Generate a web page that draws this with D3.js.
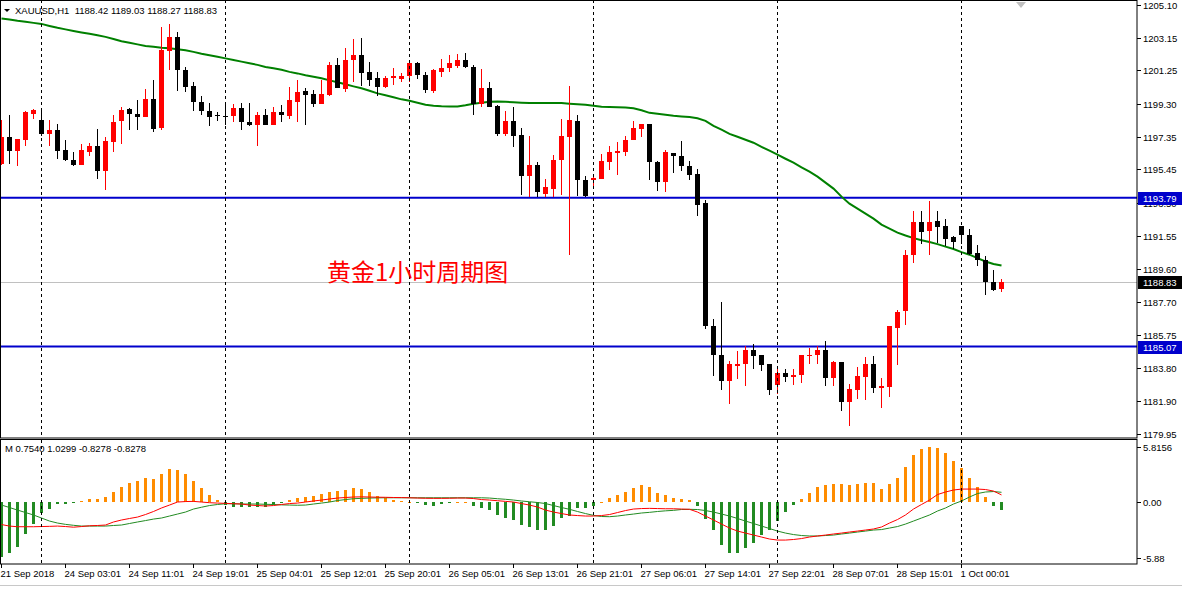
<!DOCTYPE html>
<html>
<head>
<meta charset="utf-8">
<script src="https://cdn.jsdelivr.net/npm/d3@7"></script>
<style>
  body { margin: 0; background: #fff; }
  svg text { font-family: "Liberation Sans", Arial, sans-serif; font-size: 9.5px; fill: #000; }
</style>
</head>
<body>
<div id="chart"></div>
<script>
// XAUUSD H1 candles, one entry per bar
const opens = [1195.78,1197.36,1196.54,1197.18,1198.71,1198.35,1197.53,1197.77,1196.56,1196.01,1195.72,1196.48,1196.83,1195.33,1197.08,1198.31,1199.00,1198.71,1198.49,1199.58,
  1197.90,1202.41,1203.21,1201.28,1200.34,1199.39,1198.88,1198.65,1198.59,1198.55,1199.04,1198.24,1198.02,1198.65,1198.02,1198.78,1198.59,1199.42,1200.05,1199.87,
  1199.29,1199.82,1201.57,1200.17,1201.86,1202.16,1201.14,1200.79,1200.30,1200.79,1200.75,1200.89,1201.67,1200.99,1200.01,1201.14,1201.41,1201.53,1201.86,1201.47,
  1199.29,1200.24,1199.17,1197.53,1198.31,1197.48,1195.07,1195.68,1194.02,1194.32,1195.97,1197.32,1198.30,1194.84,1194.84,1194.90,1195.90,1196.38,1196.48,1197.18,
  1197.84,1198.12,1195.86,1194.69,1196.38,1196.25,1195.66,1195.18,1193.48,1186.30,1184.60,1183.04,1183.92,1184.02,1184.84,1184.55,1184.02,1182.81,1183.49,1183.28,
  1183.39,1184.50,1184.56,1184.84,1183.20,1184.15,1181.81,1182.50,1183.28,1184.02,1182.61,1182.69,1186.17,1187.14,1190.41,1192.34,1191.82,1192.44,1192.11,1191.47,
  1192.11,1191.62,1190.55,1190.16,1188.87,1188.42];
const highs = [1198.35,1198.65,1197.24,1198.84,1199.00,1199.06,1198.35,1198.12,1197.18,1196.48,1196.95,1196.99,1197.83,1197.34,1198.65,1199.13,1199.06,1199.53,1200.17,1200.69,
  1203.80,1203.97,1203.52,1201.47,1200.59,1199.72,1199.33,1198.78,1199.27,1199.29,1199.33,1199.33,1198.80,1199.00,1199.13,1199.19,1200.28,1200.69,1200.21,1200.11,
  1200.69,1201.76,1201.96,1202.58,1203.09,1203.17,1201.71,1201.14,1200.89,1201.41,1201.12,1201.73,1201.76,1201.14,1201.34,1201.92,1202.16,1202.20,1202.29,1201.57,
  1201.34,1200.54,1199.23,1198.84,1199.10,1197.90,1197.38,1195.86,1194.88,1196.31,1198.41,1200.34,1198.65,1195.07,1195.04,1196.36,1196.79,1197.03,1197.42,1198.30,
  1198.12,1198.12,1195.95,1196.60,1196.38,1197.12,1195.91,1195.47,1193.63,1186.69,1187.65,1184.25,1184.80,1185.09,1185.19,1184.55,1184.02,1183.83,1183.77,1183.73,
  1184.60,1184.96,1185.09,1185.38,1184.25,1184.15,1182.85,1183.86,1184.45,1184.50,1183.20,1186.26,1187.18,1190.71,1193.03,1192.99,1193.61,1192.99,1192.56,1191.57,
  1192.11,1191.96,1191.00,1190.40,1189.58,1189.03];
const lows = [1195.72,1195.78,1195.62,1196.79,1198.41,1197.38,1196.83,1196.07,1195.91,1195.62,1195.72,1196.25,1194.90,1194.22,1196.44,1196.95,1197.73,1197.73,1198.49,1197.63,
  1197.73,1201.28,1200.01,1199.97,1198.84,1198.65,1198.00,1198.31,1198.06,1198.25,1197.77,1197.96,1196.83,1198.02,1198.02,1198.22,1198.39,1198.21,1198.06,1199.10,
  1199.29,1199.76,1200.21,1199.97,1200.59,1200.34,1200.34,1199.72,1200.21,1200.40,1200.59,1200.59,1200.74,1199.92,1199.92,1200.85,1201.18,1201.38,1201.38,1198.61,
  1199.10,1199.10,1197.38,1197.38,1196.73,1193.97,1193.81,1193.81,1193.81,1193.81,1193.97,1190.45,1193.91,1193.83,1194.45,1194.90,1195.42,1195.14,1196.26,1197.18,
  1197.32,1194.84,1194.16,1194.10,1195.24,1195.37,1194.80,1192.70,1186.07,1183.33,1182.51,1181.68,1183.14,1182.75,1183.73,1183.63,1182.21,1182.26,1182.98,1182.81,
  1182.91,1184.02,1184.02,1182.75,1182.75,1181.29,1180.41,1181.97,1181.93,1182.36,1181.44,1182.11,1183.98,1186.32,1189.97,1191.08,1190.45,1191.14,1190.94,1190.81,
  1191.08,1190.41,1189.77,1188.07,1188.31,1188.27];
const closes = [1197.36,1196.54,1197.24,1198.78,1198.90,1197.53,1197.77,1196.50,1195.97,1195.72,1196.56,1196.83,1195.33,1197.12,1198.24,1198.94,1198.69,1198.51,1199.58,1197.84,
  1202.45,1203.21,1201.24,1200.30,1199.37,1198.84,1198.49,1198.55,1198.55,1199.04,1198.20,1198.02,1198.65,1198.02,1198.82,1198.66,1199.53,1199.99,1199.82,1199.29,
  1199.87,1201.57,1200.24,1201.86,1202.16,1201.09,1200.69,1200.30,1200.79,1200.89,1200.93,1201.67,1200.99,1200.07,1201.24,1201.38,1201.67,1201.86,1201.44,1199.29,
  1200.24,1199.10,1197.53,1198.31,1197.42,1195.07,1195.68,1194.10,1194.39,1196.01,1197.38,1198.35,1194.80,1193.91,1194.96,1195.95,1196.48,1196.54,1197.18,1197.89,
  1198.12,1195.86,1194.69,1196.44,1196.26,1195.62,1195.14,1193.38,1186.26,1184.56,1183.04,1184.02,1184.02,1184.84,1184.50,1183.96,1182.51,1183.49,1183.28,1183.43,
  1184.55,1184.60,1184.84,1183.20,1184.15,1181.81,1182.56,1183.33,1184.02,1182.61,1182.75,1186.26,1187.08,1190.45,1192.34,1191.78,1192.37,1192.05,1191.39,1191.17,
  1191.58,1190.51,1190.12,1188.83,1188.37,1188.83];

// moving average drawn on the price panel
const maValues = [1204.29,1204.23,1204.15,1204.09,1204.03,1203.97,1203.85,1203.74,1203.65,1203.56,1203.47,1203.39,1203.30,1203.21,1203.09,1202.95,1202.86,1202.77,1202.68,1202.63,
  1202.57,1202.54,1202.48,1202.42,1202.33,1202.22,1202.13,1202.04,1201.95,1201.86,1201.76,1201.66,1201.57,1201.45,1201.37,1201.28,1201.16,1201.07,1200.96,1200.87,
  1200.78,1200.66,1200.55,1200.43,1200.31,1200.20,1200.05,1199.90,1199.79,1199.67,1199.55,1199.47,1199.35,1199.23,1199.17,1199.14,1199.13,1199.13,1199.20,1199.29,
  1199.35,1199.41,1199.42,1199.41,1199.38,1199.35,1199.33,1199.33,1199.33,1199.33,1199.33,1199.29,1199.26,1199.23,1199.17,1199.11,1199.10,1199.09,1199.07,1199.03,
  1198.91,1198.76,1198.70,1198.65,1198.59,1198.55,1198.51,1198.44,1198.29,1198.00,1197.77,1197.53,1197.36,1197.18,1197.01,1196.77,1196.54,1196.31,1196.07,1195.84,
  1195.57,1195.31,1195.02,1194.67,1194.32,1193.85,1193.44,1193.15,1192.85,1192.56,1192.21,1191.98,1191.74,1191.57,1191.42,1191.30,1191.19,1191.07,1190.92,1190.78,
  1190.60,1190.45,1190.25,1190.05,1189.90,1189.81];

// MACD panel: histogram, main line (red), signal line (green)
const macdHist = [-5.85,-5.42,-4.72,-3.42,-2.36,-1.20,-0.70,-0.25,-0.20,-0.15,0.12,0.32,0.32,0.53,1.09,1.59,1.97,2.22,2.54,2.43,
  2.99,3.49,3.38,2.99,2.22,1.48,0.78,0.21,-0.35,-0.53,-0.53,-0.56,-0.50,-0.49,-0.28,-0.10,0.25,0.46,0.53,0.63,
  0.85,1.09,1.16,1.30,1.45,1.37,1.09,0.63,0.46,0.21,0.07,0.05,-0.05,-0.28,-0.39,-0.18,-0.10,0.05,0.05,-0.39,
  -0.60,-0.85,-1.34,-1.69,-1.90,-2.43,-2.61,-2.96,-2.96,-2.50,-1.66,-1.48,-0.60,-0.60,-0.42,0.05,0.42,0.70,1.09,1.45,
  1.80,1.59,0.99,0.74,0.46,0.32,0.21,-0.39,-1.83,-2.96,-4.50,-5.40,-5.40,-4.90,-4.30,-3.50,-2.96,-2.00,-1.06,-0.30,
  0.30,0.95,1.60,1.80,1.90,1.90,1.80,1.90,2.00,2.00,1.34,1.90,2.50,3.70,4.97,5.60,5.82,5.71,5.15,4.33,
  3.56,2.54,1.55,0.53,-0.39,-0.8278];
const macdMain = [-2.38,-2.54,-2.61,-2.61,-2.61,-2.59,-2.57,-2.54,-2.59,-2.66,-2.59,-2.51,-2.48,-2.43,-2.11,-1.90,-1.74,-1.59,-1.32,-1.00,
  -0.63,-0.32,0.00,0.05,0.07,0.00,-0.07,-0.11,-0.14,-0.18,-0.21,-0.32,-0.37,-0.42,-0.37,-0.26,-0.16,-0.11,0.00,0.11,
  0.21,0.32,0.42,0.48,0.53,0.55,0.53,0.51,0.50,0.48,0.47,0.45,0.42,0.40,0.39,0.39,0.40,0.42,0.42,0.37,
  0.26,0.21,0.14,0.07,0.00,-0.16,-0.32,-0.53,-0.85,-1.06,-1.22,-1.37,-1.43,-1.48,-1.48,-1.43,-1.32,-1.11,-0.90,-0.74,
  -0.69,-0.67,-0.69,-0.71,-0.71,-0.74,-0.77,-1.06,-1.48,-1.90,-2.33,-2.75,-3.07,-3.28,-3.49,-3.70,-3.91,-4.02,-4.02,-3.96,
  -3.86,-3.70,-3.59,-3.49,-3.38,-3.28,-3.17,-3.07,-2.96,-2.85,-2.64,-2.22,-1.85,-1.37,-0.74,-0.26,0.21,0.79,1.06,1.27,
  1.37,1.37,1.37,1.32,1.16,0.754];
const macdSignal = [-0.32,-0.58,-0.85,-1.11,-1.37,-1.69,-2.01,-2.22,-2.36,-2.46,-2.54,-2.54,-2.54,-2.54,-2.48,-2.43,-2.27,-2.11,-1.96,-1.80,
  -1.69,-1.48,-1.27,-1.06,-0.74,-0.55,-0.37,-0.26,-0.18,-0.18,-0.21,-0.21,-0.21,-0.24,-0.26,-0.30,-0.32,-0.34,-0.32,-0.21,
  -0.11,0.00,0.16,0.26,0.35,0.39,0.42,0.44,0.45,0.45,0.45,0.45,0.45,0.45,0.45,0.45,0.45,0.45,0.45,0.45,
  0.45,0.42,0.35,0.29,0.21,0.11,0.03,-0.05,-0.16,-0.37,-0.58,-0.77,-1.00,-1.22,-1.41,-1.53,-1.55,-1.48,-1.37,-1.27,
  -1.16,-1.09,-1.00,-0.93,-0.88,-0.79,-0.77,-0.79,-0.90,-1.06,-1.27,-1.48,-1.74,-2.01,-2.27,-2.54,-2.80,-3.07,-3.28,-3.44,
  -3.54,-3.59,-3.59,-3.54,-3.49,-3.38,-3.28,-3.17,-3.07,-2.96,-2.91,-2.75,-2.59,-2.33,-2.01,-1.69,-1.37,-0.95,-0.63,-0.21,
  0.11,0.53,0.90,1.06,1.11,1.0299];

const priceTicks = [1205.10,1203.15,1201.25,1199.30,1197.35,1195.45,1193.50,1191.55,1189.60,1187.70,1185.75,1183.80,1181.90,1179.95];
const macdTicks = [5.8156, 0, -5.88];
const macdTickLabels = ["5.8156", "0.00", "-5.88"];
const timeLabels = ["21 Sep 2018","24 Sep 03:01","24 Sep 11:01","24 Sep 19:01","25 Sep 04:01","25 Sep 12:01","25 Sep 20:01","26 Sep 05:01",
  "26 Sep 13:01","26 Sep 21:01","27 Sep 06:01","27 Sep 14:01","27 Sep 22:01","28 Sep 07:01","28 Sep 15:01","1 Oct 00:01"];
const dayStarts = [5, 28, 51, 74, 97, 120];
const levelLines = [1193.79, 1185.07];
const lastPrice = 1188.83;
const headerText = "XAUUSD,H1  1188.42 1189.03 1188.27 1188.83";
const macdHeader = "M 0.7540 1.0299 -0.8278 -0.8278";
const titleText = "黄金1小时周期图";

const W = 1182, H = 589;
const axisX = 1137;
const mainTop = 0, mainBottom = 438;
const subTop = 440, subBottom = 564;
const barStep = 8;

const n = closes.length;
const x = d3.scaleLinear().domain([0, n - 1]).range([1.5, 1.5 + barStep * (n - 1)]);
const y = d3.scaleLinear().domain([1179.71, 1205.37]).range([mainBottom, mainTop]);
const ym = d3.scaleLinear().domain([-6.55, 6.61]).range([subBottom, subTop - 0.5]);

const svg = d3.select("#chart").append("svg")
  .attr("width", W).attr("height", H)
  .style("display", "block");

svg.append("rect").attr("width", W).attr("height", H).attr("fill", "#fff");

const mainG = svg.append("g");
const subG = svg.append("g");

// day separators
dayStarts.forEach(i => {
  [[mainTop, mainBottom], [subTop, subBottom]].forEach(([a, b]) => {
    svg.append("line")
      .attr("x1", x(i)).attr("x2", x(i)).attr("y1", a).attr("y2", b)
      .attr("stroke", "#000").attr("stroke-dasharray", "3,3");
  });
});

// horizontal level lines
levelLines.forEach(v => {
  mainG.append("line")
    .attr("x1", 0).attr("x2", axisX).attr("y1", y(v)).attr("y2", y(v))
    .attr("stroke", "#0000cc").attr("stroke-width", 2);
});
mainG.append("line")
  .attr("x1", 0).attr("x2", axisX)
  .attr("y1", Math.round(y(lastPrice)) + 0.5).attr("y2", Math.round(y(lastPrice)) + 0.5)
  .attr("stroke", "#c0c0c0");

// moving average
mainG.append("path")
  .datum(maValues)
  .attr("fill", "none")
  .attr("stroke", "#008000")
  .attr("stroke-width", 2)
  .attr("d", d3.line().x((d, i) => x(i)).y(d => y(d)));

// candles
const idx = d3.range(n);
const candle = mainG.selectAll("g.candle").data(idx).enter().append("g")
  .attr("class", "candle");
candle.append("rect")
  .attr("x", i => x(i) - 0.5)
  .attr("width", 1)
  .attr("y", i => Math.round(y(highs[i])))
  .attr("height", i => Math.max(1, Math.round(y(lows[i])) - Math.round(y(highs[i]))))
  .attr("fill", i => closes[i] > opens[i] ? "#ff0000" : "#000");
candle.append("rect")
  .attr("x", i => x(i) - 2.5)
  .attr("width", 5)
  .attr("y", i => Math.round(y(Math.max(opens[i], closes[i]))))
  .attr("height", i => Math.max(1, Math.round(y(Math.min(opens[i], closes[i]))) - Math.round(y(Math.max(opens[i], closes[i])))))
  .attr("fill", i => closes[i] > opens[i] ? "#ff0000" : "#000");

// MACD histogram
subG.selectAll("rect.hist").data(idx).enter().append("rect")
  .attr("class", "hist")
  .attr("x", i => x(i) - 1.5)
  .attr("width", 3)
  .attr("y", i => Math.round(Math.min(ym(0), ym(macdHist[i]))))
  .attr("height", i => Math.max(1, Math.round(Math.abs(ym(macdHist[i]) - ym(0)))))
  .attr("fill", i => macdHist[i] >= 0 ? "#ff8c00" : "#228b22");

subG.append("path")
  .datum(macdSignal)
  .attr("fill", "none").attr("stroke", "#228b22").attr("stroke-width", 1)
  .attr("d", d3.line().x((d, i) => x(i)).y(d => ym(d)));
subG.append("path")
  .datum(macdMain)
  .attr("fill", "none").attr("stroke", "#ff0000").attr("stroke-width", 1)
  .attr("d", d3.line().x((d, i) => x(i)).y(d => ym(d)));

// panel frames
svg.append("rect").attr("x", 0.5).attr("y", mainTop + 0.5)
  .attr("width", axisX - 0.5).attr("height", mainBottom - mainTop - 0.5)
  .attr("fill", "none").attr("stroke", "#000");
svg.append("rect").attr("x", 0.5).attr("y", subTop - 0.5)
  .attr("width", axisX - 0.5).attr("height", subBottom - subTop + 0.5)
  .attr("fill", "none").attr("stroke", "#000");

// price axis
const priceAxis = svg.append("g");
priceTicks.forEach(v => {
  const yy = Math.round(y(v)) + 0.5;
  priceAxis.append("line").attr("x1", axisX).attr("x2", axisX + 4)
    .attr("y1", yy).attr("y2", yy).attr("stroke", "#000");
  priceAxis.append("text").attr("x", axisX + 6).attr("y", yy + 3.5).text(v.toFixed(2));
});
macdTicks.forEach((v, k) => {
  const yy = Math.round(ym(v)) + 0.5;
  priceAxis.append("line").attr("x1", axisX).attr("x2", axisX + 4)
    .attr("y1", yy).attr("y2", yy).attr("stroke", "#000");
  priceAxis.append("text").attr("x", axisX + 6).attr("y", yy + 3.5).text(macdTickLabels[k]);
});

// value tags on the axis
function tag(v, bg) {
  const yy = Math.round(y(v));
  priceAxis.append("rect").attr("x", axisX + 1).attr("y", yy - 6)
    .attr("width", W - axisX - 1).attr("height", 13).attr("fill", bg);
  priceAxis.append("text").attr("x", axisX + 6).attr("y", yy + 4)
    .style("fill", "#fff").text(v.toFixed(2));
}
levelLines.forEach(v => tag(v, "#0000cc"));
tag(lastPrice, "#000");

// time axis
timeLabels.forEach((t, k) => {
  const xx = x(k * 8);
  svg.append("line").attr("x1", xx).attr("x2", xx)
    .attr("y1", subBottom).attr("y2", subBottom + 4).attr("stroke", "#000");
  svg.append("text").attr("x", xx - 1).attr("y", subBottom + 13).text(t);
});

svg.append("line").attr("x1", 0).attr("x2", W).attr("y1", 585.5).attr("y2", 585.5)
  .attr("stroke", "#c8c8c8");

// headers
svg.append("path").attr("d", "M4,9 L10,9 L7,12 Z").attr("fill", "#000");
svg.append("text").attr("x", 15).attr("y", 14).attr("xml:space", "preserve").text(headerText);
svg.append("text").attr("x", 5).attr("y", 452).text(macdHeader);
svg.append("path").attr("d", "M1016,2 L1026,2 L1021,8 Z").attr("fill", "#c0c0c0");

svg.append("text")
  .attr("x", 327).attr("y", 281)
  .style("font-family", '"Noto Sans CJK SC", sans-serif')
  .style("font-size", "24px")
  .style("fill", "#ff0000")
  .text(titleText);
</script>
</body>
</html>
